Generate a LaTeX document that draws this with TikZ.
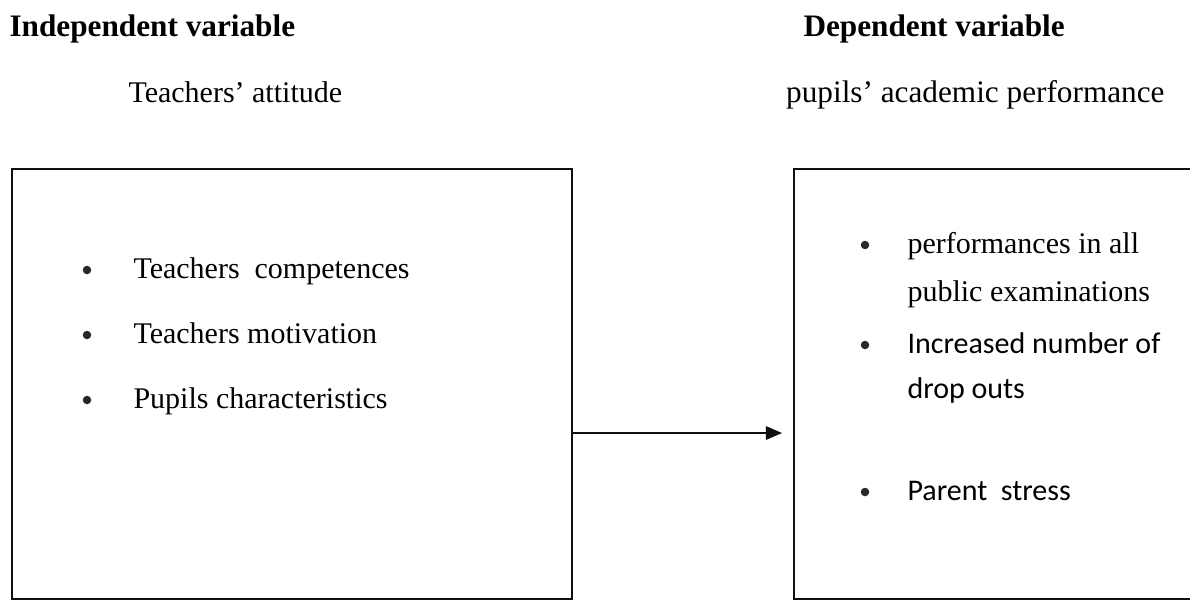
\documentclass[tikz,border=0pt]{standalone}
\usepackage{fontspec}
\setmainfont{Liberation Serif}
\newfontfamily\calibrifont{Carlito}
\usetikzlibrary{positioning, arrows.meta}
\definecolor{InkBlack}{RGB}{15, 15, 15}
\definecolor{DotGrey}{RGB}{40, 40, 40}

\begin{document}
\begin{tikzpicture}[x=0.4pt, y=-0.4pt,
    varbox/.style={draw=InkBlack, line width=0.6pt, inner sep=0pt, anchor=north west},
    txt/.style={inner sep=0pt, anchor=base west, font=\fontsize{12}{14}\selectfont},
    head/.style={txt, font=\fontsize{12.5}{15}\selectfont\bfseries},
    dot/.style={circle, fill=DotGrey, inner sep=0pt, minimum size=3.4pt}]
    \useasboundingbox (0,0) rectangle (1190,601);
    % headings
    \node[head] (indep) at (9,36) {Independent variable};
    \node[head] (dep) at (803,36) {Dependent variable};
    \node[txt] (attitude) at (128,102) {Teachers' attitude};
    \node[txt, anchor=base east, font=\fontsize{12.5}{15}\selectfont] (performance) at (1165,102) {pupils' academic performance};
    % boxes
    \node[varbox, minimum width=224pt, minimum height=172pt] (leftbox) at (11,168) {};
    \node[varbox, minimum width=168pt, minimum height=172pt] (rightbox) at (793,168) {};
    % left items
    \node[dot] (ldot1) at (87,270) {};
    \node[dot] (ldot2) at (87,335) {};
    \node[dot] (ldot3) at (87,400) {};
    \node[txt] (competences) at (133,278) {Teachers\ \ competences};
    \node[txt] (motivation) at (133,343) {Teachers motivation};
    \node[txt] (characteristics) at (133,408) {Pupils characteristics};
    % right items
    \node[dot] (rdot1) at (865,245) {};
    \node[dot] (rdot2) at (865,345) {};
    \node[dot] (rdot3) at (865,492) {};
    \node[txt] (exams1) at (907,253) {performances in all};
    \node[txt] (exams2) at (907,301) {public examinations};
    \node[txt, font=\fontsize{12}{14}\calibrifont] (dropouts1) at (907,353) {Increased number of};
    \node[txt, font=\fontsize{12}{14}\calibrifont] (dropouts2) at (907,398) {drop outs};
    \node[txt, font=\fontsize{12}{14}\calibrifont] (stress) at (907,500) {Parent\ \ stress};
    % link
    \coordinate (linkstart) at (leftbox.east |- 0,433);
    \coordinate (linkend) at (782,433);
    \draw[InkBlack, line width=0.5pt, -{Triangle[length=6.5pt, width=5.5pt]}] (linkstart) -- (linkend);
\end{tikzpicture}
\end{document}
